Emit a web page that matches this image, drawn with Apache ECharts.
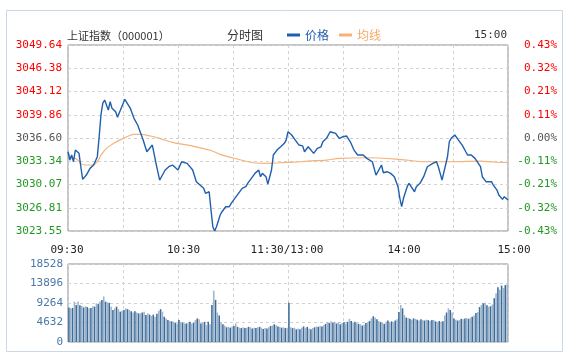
<!DOCTYPE html>
<html><head><meta charset="utf-8">
<script src="https://cdn.jsdelivr.net/npm/echarts@6/dist/echarts.min.js"></script>
<style>html,body{margin:0;padding:0;background:#fff}#c{width:570px;height:359px}</style>
</head><body><div id="c"></div>
<script>
const titleText = '上证指数（000001）';
const chartName = '分时图';
const seriesNames = ['价格', '均线'];
const headerTime = '15:00';
const prevClose = 3036.60;
const priceStep = 3.26125;
const leftLabels = ['3023.55','3026.81','3030.07','3033.34','3036.60','3039.86','3043.12','3046.38','3049.64'];
const rightLabels = ['-0.43%','-0.32%','-0.21%','-0.11%','0.00%','0.11%','0.21%','0.32%','0.43%'];
const timeLabels = ['09:30','10:30','11:30/13:00','14:00','15:00'];

const priceMinutes = [0,1,2,3,4,6,7,8,10,12,14,16,17,18,19,20,22,23,24,26,27,29,31,34,36,38,39,41,43,44,46,48,50,51,53,55,57,58,60,62,63,65,68,70,72,74,75,77,78,79,80,81,83,84,86,88,89,91,93,95,97,98,100,102,104,105,106,108,109,111,112,114,116,118,119,120,122,124,126,128,129,131,132,134,136,138,139,141,143,144,146,147,148,150,152,154,156,158,159,161,163,166,168,169,171,172,174,176,178,180,181,182,183,185,186,187,189,190,192,194,196,197,199,201,202,203,204,205,207,208,209,211,212,213,215,217,218,220,222,223,225,226,228,229,231,232,234,235,237,238,240];
const priceValues = [3034.67,3033.51,3034.21,3033.27,3034.91,3034.45,3032.57,3030.80,3031.40,3032.34,3032.81,3033.98,3036.78,3039.90,3041.50,3041.92,3040.52,3041.69,3040.76,3040.29,3039.50,3040.76,3042.02,3040.76,3039.36,3038.42,3038.18,3036.31,3034.67,3034.53,3035.61,3033.04,3030.70,3031.17,3032.11,3032.57,3032.81,3032.57,3032.11,3033.27,3033.51,3033.04,3032.11,3030.47,3030.00,3029.54,3028.84,3029.06,3026.50,3024.15,3023.55,3024.15,3025.80,3026.26,3026.96,3026.96,3027.43,3028.14,3028.84,3029.54,3029.77,3030.24,3030.94,3031.64,3032.11,3031.17,3031.64,3031.17,3030.14,3032.11,3034.21,3034.91,3035.37,3035.85,3036.31,3037.48,3037.02,3036.31,3035.61,3035.50,3034.67,3035.37,3035.15,3034.45,3035.15,3035.37,3036.07,3036.55,3037.48,3037.72,3037.25,3036.88,3036.55,3036.78,3036.88,3036.07,3034.91,3034.21,3033.97,3034.21,3033.74,3033.27,3031.40,3031.64,3032.81,3031.73,3031.87,3031.64,3031.17,3029.77,3028.14,3026.96,3028.14,3029.77,3030.24,3030.00,3029.06,3029.77,3030.24,3031.17,3032.57,3032.81,3033.04,3033.27,3032.57,3031.64,3030.70,3030.70,3033.97,3036.07,3036.55,3037.02,3036.78,3036.31,3035.61,3034.67,3034.21,3034.21,3033.74,3033.97,3032.57,3031.17,3030.47,3030.24,3030.47,3030.00,3029.30,3028.60,3027.99,3028.37,3027.90];

const avgMinutes = [0,2,4,7,9,13,16,18,21,25,29,33,36,40,45,50,57,68,78,83,90,101,110,119,127,131,141,148,163,179,196,210,225,232,240];
const avgValues = [3034.67,3033.74,3033.74,3033.04,3032.81,3032.81,3033.27,3034.21,3035.15,3035.85,3036.41,3036.88,3037.11,3037.11,3036.88,3036.55,3035.99,3035.47,3034.85,3034.30,3033.80,3033.13,3033.04,3033.19,3033.27,3033.37,3033.51,3033.74,3033.83,3033.65,3033.27,3033.27,3033.37,3033.23,3033.13];

const volumes = [8200,8000,8100,9600,8800,9600,8700,8600,8200,8500,8300,8000,8100,8500,8400,9200,9000,9600,10000,10800,
9600,9400,9300,8400,7600,8000,8400,7800,7200,7400,7600,8000,7800,7600,7300,7000,7300,7000,6800,6800,
7000,7200,6400,6800,6500,6200,6500,6000,6700,7400,7800,7200,6000,5600,5200,5000,4900,4800,4600,4400,
5200,4800,4600,4400,4400,4600,4800,4400,4600,5200,5600,5400,4400,4600,4800,4000,4800,4200,8800,12200,
10000,7000,6300,4700,4200,3900,3500,3600,3400,3700,3800,4400,3600,3400,3300,3500,3300,3400,3600,3500,
3200,3400,3300,3500,3600,3400,3100,3300,3200,3500,3800,3900,4200,4000,3700,3600,3400,3500,3300,3400,
9300,3500,3300,3400,3000,3200,3000,3400,3700,3300,3600,3200,3000,3300,3500,3700,3600,3800,3700,4000,
4300,4700,4500,4900,4600,4800,4400,4700,4200,4500,4700,4400,4800,5500,5000,4600,4800,4500,4300,4200,
3900,4100,4500,4700,5000,5600,6100,5800,5400,5000,4700,4500,4300,4800,5100,4700,4900,4600,5100,5400,
7100,8800,8000,6400,5800,5700,5500,5300,5600,5500,5300,5100,5400,5200,5100,5300,5200,5000,5200,5200,
4900,4700,5000,4800,4900,6300,7000,8000,7600,7000,5600,5300,5100,5200,5500,5400,5600,5700,5500,5800,
6000,6300,6900,7100,8300,8800,9200,9300,8700,8400,8500,8900,10400,11600,13000,12400,13400,12800,13500,13700];
const volMax = 18528;
const volStep = 4632;

const monoFont = '"DejaVu Sans Mono", monospace';
const cjkFont = '"Noto Sans CJK SC", sans-serif';
const gridDash = { color: '#d2d2d2', type: [3, 3], width: 1 };
const labelIdx = v => Math.round(Number(v) / priceStep) + 4;
const labelColor = v => { const k = labelIdx(v) - 4; return k > 0 ? '#ff0000' : (k < 0 ? '#229922' : '#555555'); };

const timeLabelX = [67, 183.5, 287, 404, 514];

const chart = echarts.init(document.getElementById('c'), null, { renderer: 'canvas' });
chart.setOption({
  animation: false,
  backgroundColor: '#ffffff',
  legend: {
    left: 287, top: 29, padding: 0, itemGap: 10,
    itemWidth: 13, itemHeight: 3, icon: 'rect',
    textStyle: { fontFamily: cjkFont, fontSize: 12 },
    data: [
      { name: seriesNames[0], textStyle: { color: '#1f5fae' }, itemStyle: { color: '#1f5fae' } },
      { name: seriesNames[1], textStyle: { color: '#f5aa66' }, itemStyle: { color: '#f5b27a' } }
    ]
  },
  graphic: [
    { type: 'rect', z: -10, shape: { x: 6.5, y: 10.5, width: 556, height: 341 }, style: { fill: 'none', stroke: '#c9d7e6', lineWidth: 1 } },
    { type: 'text', x: 67, y: 35.5, style: { text: titleText, fill: '#333', font: '11px ' + cjkFont, textVerticalAlign: 'middle' } },
    { type: 'text', x: 227, y: 35.5, style: { text: chartName, fill: '#333', font: '12px ' + cjkFont, textVerticalAlign: 'middle' } },
    { type: 'text', x: 507, y: 35.5, style: { text: headerTime, fill: '#333', font: '11px ' + monoFont, textAlign: 'right', textVerticalAlign: 'middle' } }
  ].concat(timeLabels.map((t, i) => ({
    type: 'text', x: timeLabelX[i], y: 250.5,
    style: { text: t, fill: '#222', font: '11px ' + monoFont, textAlign: 'center', textVerticalAlign: 'middle' }
  }))),
  grid: [
    { left: 68, top: 45, width: 440, height: 186, show: true, borderColor: '#8c8c8c', borderWidth: 1, backgroundColor: 'transparent' },
    { left: 68, top: 264, width: 440, height: 78, show: true, borderColor: '#8c8c8c', borderWidth: 1, backgroundColor: 'transparent' }
  ],
  xAxis: [
    { type: 'value', gridIndex: 0, min: 0, max: 240, interval: 30,
      axisLine: { show: false }, axisTick: { show: false }, axisLabel: { show: false },
      splitLine: { show: true, lineStyle: gridDash } },
    { type: 'category', gridIndex: 1, data: volumes.map((_, i) => i), boundaryGap: true,
      axisLine: { show: false }, axisTick: { show: false, interval: 29 }, axisLabel: { show: false },
      splitLine: { show: true, interval: 29, lineStyle: gridDash } }
  ],
  yAxis: [
    { type: 'value', gridIndex: 0, min: -4 * priceStep, max: 4 * priceStep, interval: priceStep,
      axisLine: { show: false }, axisTick: { show: false },
      splitLine: { show: true, lineStyle: gridDash },
      axisLabel: { margin: 6, fontFamily: monoFont, fontSize: 11,
        formatter: v => leftLabels[labelIdx(v)], color: labelColor } },
    { type: 'value', gridIndex: 0, position: 'right', min: -4 * priceStep, max: 4 * priceStep, interval: priceStep,
      axisLine: { show: false }, axisTick: { show: false }, splitLine: { show: false },
      axisLabel: { margin: 49, align: 'right', fontFamily: monoFont, fontSize: 11,
        formatter: v => rightLabels[labelIdx(v)], color: labelColor } },
    { type: 'value', gridIndex: 1, min: 0, max: volMax, interval: volStep,
      axisLine: { show: false }, axisTick: { show: false },
      splitLine: { show: true, lineStyle: gridDash },
      axisLabel: { margin: 5, fontFamily: monoFont, fontSize: 11, color: '#4a78a8', formatter: v => String(v) } }
  ],
  series: [
    { name: seriesNames[0], type: 'line', xAxisIndex: 0, yAxisIndex: 0, symbol: 'none', z: 3,
      lineStyle: { color: '#1f5fae', width: 1.4 }, itemStyle: { color: '#1f5fae' },
      data: priceMinutes.map((m, i) => [m, priceValues[i] - prevClose]) },
    { name: seriesNames[1], type: 'line', xAxisIndex: 0, yAxisIndex: 0, symbol: 'none', smooth: 0.3, z: 2,
      lineStyle: { color: '#f5b27a', width: 1.2 }, itemStyle: { color: '#f5b27a' },
      data: avgMinutes.map((m, i) => [m, avgValues[i] - prevClose]) },
    { name: 'vol', type: 'bar', xAxisIndex: 1, yAxisIndex: 2, barWidth: '85%',
      itemStyle: { color: p => (p.dataIndex % 2 === 0 ? '#3d6c9b' : '#9cb4cc') },
      data: volumes }
  ]
});
</script></body></html>
